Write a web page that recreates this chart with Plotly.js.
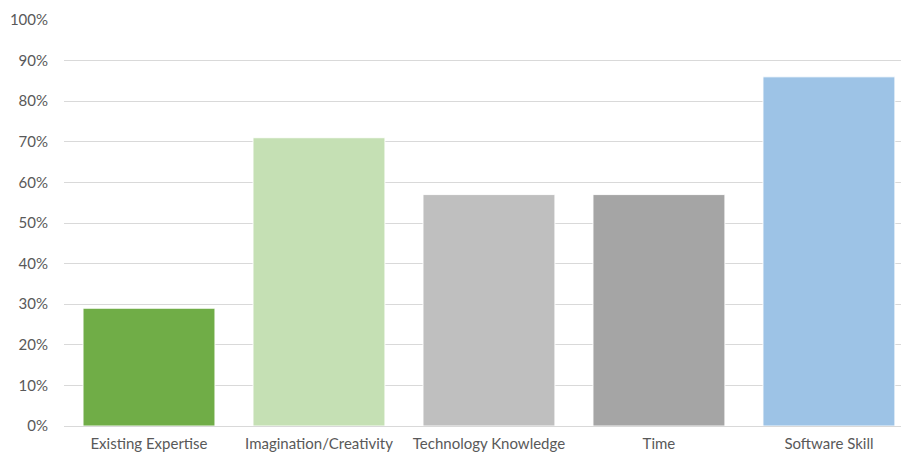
<!DOCTYPE html>
<html>
<head>
<meta charset="utf-8">
<script src="https://cdn.plot.ly/plotly-3.0.1.min.js"></script>
<style>
  html, body { margin: 0; padding: 0; background: #ffffff; }
  #chart { width: 901px; height: 454px; }
</style>
</head>
<body>
<div id="chart"></div>
<script>
// Share of respondents naming each factor
const categories = ["Existing Expertise", "Imagination/Creativity", "Technology Knowledge", "Time", "Software Skill"];
const shares = [0.29, 0.71, 0.57, 0.57, 0.86];
const barColors = ["#70AD47", "#C5E0B4", "#BFBFBF", "#A5A5A5", "#9DC3E6"];
const yTickValues = [0, 0.1, 0.2, 0.3, 0.4, 0.5, 0.6, 0.7, 0.8, 0.9, 1.0];
const yTickLabels = ["0%", "10%", "20%", "30%", "40%", "50%", "60%", "70%", "80%", "90%", "100%"];

const labelFont = { family: "Lato, 'Open Sans', sans-serif", size: 15, color: "#595959" };

const trace = {
  type: "bar",
  x: categories,
  y: shares,
  marker: {
    color: barColors,
    line: { color: "rgba(255,255,255,0.9)", width: 1 }
  },
  hoverinfo: "x+y"
};

const layout = {
  width: 901,
  height: 454,
  margin: { l: 64, r: 0, t: 20, b: 28 },
  paper_bgcolor: "#ffffff",
  plot_bgcolor: "#ffffff",
  showlegend: false,
  bargap: 0.224,
  font: labelFont,
  xaxis: {
    type: "category",
    range: [-0.5, 4.424],
    showgrid: false,
    zeroline: false,
    showline: true,
    linecolor: "#D9D9D9",
    linewidth: 1,
    ticks: "",
    ticklabelstandoff: 4,
    tickfont: labelFont,
    fixedrange: true
  },
  yaxis: {
    range: [0, 1.0],
    tickvals: yTickValues,
    ticktext: yTickLabels,
    showgrid: true,
    gridcolor: "#D9D9D9",
    gridwidth: 1,
    zeroline: false,
    showline: false,
    ticks: "",
    ticklabelstandoff: 15,
    tickfont: labelFont,
    fixedrange: true
  }
};

Plotly.newPlot("chart", [trace], layout, { displayModeBar: false, staticPlot: true });
</script>
</body>
</html>
